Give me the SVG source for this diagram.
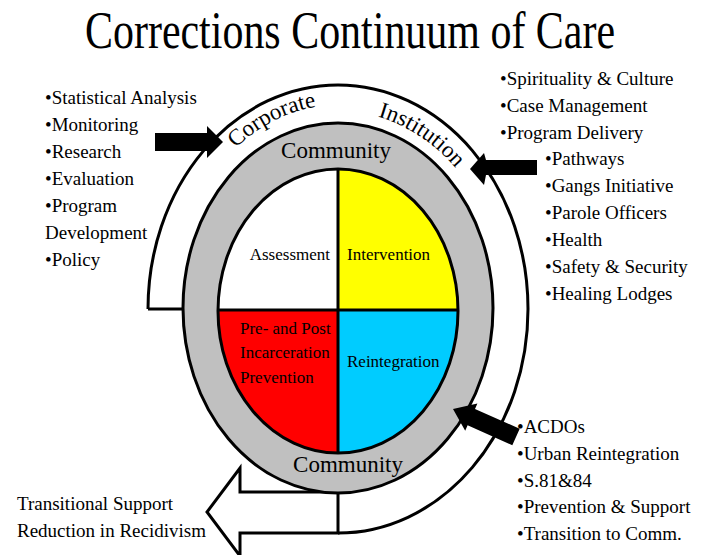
<svg xmlns="http://www.w3.org/2000/svg" width="703" height="555" viewBox="0 0 703 555" font-family="'Liberation Serif', Tinos, 'DejaVu Serif', serif">
<style>
text{font-family:'Liberation Serif',Tinos,'DejaVu Serif',serif;fill:#000}
.l{font-size:19px}
.q{font-size:17px}
.c{font-size:23px}
.ln{fill:none;stroke:#000;stroke-width:3}
.ar{fill:#000;stroke:none}
</style>
<defs>
<path id="baseA" d="M 172,308 A 166 203 0 0 1 504,308"/>
<path id="baseB" d="M 171,308 A 167 197 0 0 1 505,308"/>
</defs>
<rect width="703" height="555" fill="#fff"/>
<text id="title" x="85" y="48" font-size="52" textLength="530" lengthAdjust="spacingAndGlyphs">Corrections Continuum of Care</text>

<g id="band">
<path class="ln" d="M 148,309 A 190 224 0 1 1 338,533"/>
<path class="ln" d="M 148,309 L 186,309"/>
<path class="ln" d="M 338,533 L 240,533 L 240,556 L 207,512 L 240,468 L 240,492 L 338,492 Z" style="fill:#fff"/>
<text class="c"><textPath href="#baseA" startOffset="38.3%" text-anchor="middle">Corporate</textPath></text>
<text class="c"><textPath href="#baseB" startOffset="65.3%" text-anchor="middle">Institution</textPath></text>
</g>

<g id="community-ring">
<ellipse cx="338" cy="308" rx="155" ry="185" fill="#c0c0c0" stroke="#000" stroke-width="3"/>
<text class="c" x="336" y="158" text-anchor="middle">Community</text>
<text class="c" x="348" y="472" text-anchor="middle">Community</text>
</g>

<g id="wheel">
<path d="M 338,310 L 218,310 A 120 141 0 0 1 338,169 Z" fill="#fff"/>
<path d="M 338,310 L 338,169 A 120 141 0 0 1 458,310 Z" fill="#ffff00"/>
<path d="M 338,310 L 458,310 A 120 141 0 0 1 338,453 Z" fill="#00ccff"/>
<path d="M 338,310 L 338,453 A 120 141 0 0 1 218,310 Z" fill="#ff0000"/>
<ellipse cx="338" cy="311" rx="120" ry="142" class="ln"/>
<line x1="338" y1="169" x2="338" y2="453" stroke="#000" stroke-width="3"/>
<line x1="218" y1="310" x2="458" y2="310" stroke="#000" stroke-width="3"/>
</g>
<g id="assessment"><text class="q" x="330" y="260" text-anchor="end">Assessment</text></g>
<g id="intervention"><text class="q" x="347" y="260">Intervention</text></g>
<g id="prevention"><text class="q" x="240" y="334">Pre- and Post</text><text class="q" x="240" y="358">Incarceration</text><text class="q" x="240" y="383">Prevention</text></g>
<g id="reintegration"><text class="q" x="347" y="367">Reintegration</text></g>

<g id="connectors">
<polygon class="ar" points="155,133 207,133 207,126 223,142 207,158 207,151 155,151"/>
<polygon class="ar" points="537,160 486,160 484,153 470,169 484,185 486,175 537,175"/>
<polygon class="ar" points="519.7,428.8 475,408.9 477.4,403.4 453,409 465.2,430.8 467.6,425.3 512.3,445.2"/>
</g>

<g id="corporate-list">
<text class="l" x="45" y="104">•Statistical Analysis</text>
<text class="l" x="45" y="131">•Monitoring</text>
<text class="l" x="45" y="158">•Research</text>
<text class="l" x="45" y="185">•Evaluation</text>
<text class="l" x="45" y="212">•Program</text>
<text class="l" x="45" y="239">Development</text>
<text class="l" x="45" y="266">•Policy</text>
</g>

<g id="institution-list">
<text class="l" x="500" y="85">•Spirituality &amp; Culture</text>
<text class="l" x="500" y="112">•Case Management</text>
<text class="l" x="500" y="139">•Program Delivery</text>
<text class="l" x="545" y="165">•Pathways</text>
<text class="l" x="545" y="192">•Gangs Initiative</text>
<text class="l" x="545" y="219">•Parole Officers</text>
<text class="l" x="545" y="246">•Health</text>
<text class="l" x="545" y="273">•Safety &amp; Security</text>
<text class="l" x="545" y="300">•Healing Lodges</text>
</g>

<g id="community-list">
<text class="l" x="517" y="433">•ACDOs</text>
<text class="l" x="517" y="460">•Urban Reintegration</text>
<text class="l" x="517" y="487">•S.81&amp;84</text>
<text class="l" x="517" y="513">•Prevention &amp; Support</text>
<text class="l" x="517" y="540">•Transition to Comm.</text>
</g>

<g id="outcome">
<text class="l" x="17" y="510">Transitional Support</text>
<text class="l" x="17" y="537">Reduction in Recidivism</text>
</g>
</svg>
